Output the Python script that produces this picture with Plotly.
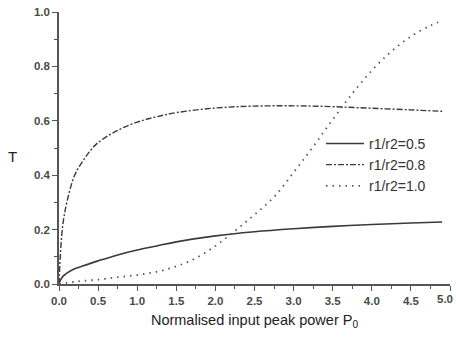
import plotly.graph_objects as go

# Data
p_solid = [0, 0.02, 0.05, 0.1, 0.2, 0.3, 0.5, 0.75, 1.0, 1.25, 1.5, 2.0, 2.5, 3.0, 3.5, 4.0, 4.5, 4.9]
t_solid = [0, 0.015, 0.028, 0.040, 0.056, 0.066, 0.085, 0.107, 0.125, 0.140, 0.155, 0.177, 0.192, 0.203, 0.212, 0.219, 0.224, 0.228]

p_dashdot = [0, 0.02, 0.05, 0.1, 0.2, 0.3, 0.4, 0.5, 0.75, 1.0, 1.25, 1.5, 2.0, 2.5, 3.0, 3.5, 4.0, 4.5, 4.9]
t_dashdot = [0, 0.12, 0.22, 0.30, 0.40, 0.45, 0.49, 0.52, 0.565, 0.595, 0.615, 0.63, 0.647, 0.654, 0.655, 0.652, 0.646, 0.640, 0.635]

p_dot = [0, 0.25, 0.5, 0.75, 1.0, 1.25, 1.5, 1.75, 2.0, 2.25, 2.5, 2.75, 3.0, 3.25, 3.5, 3.75, 4.0, 4.25, 4.5, 4.75, 4.9]
t_dot = [0, 0.010, 0.016, 0.025, 0.033, 0.045, 0.065, 0.095, 0.140, 0.195, 0.255, 0.320, 0.410, 0.505, 0.605, 0.700, 0.785, 0.855, 0.910, 0.950, 0.968]

names = ["r1/r2=0.5", "r1/r2=0.8", "r1/r2=1.0"]
x_ticks = [0.0, 0.5, 1.0, 1.5, 2.0, 2.5, 3.0, 3.5, 4.0, 4.5, 5.0]
y_ticks = [0.0, 0.2, 0.4, 0.6, 0.8, 1.0]
x_title = "Normalised input peak power P<sub>0</sub>"
y_title = "T"

FONT = "Liberation Sans, Arial"
TICKCOL = "#4a4a4a"

fig = go.Figure()
fig.add_trace(go.Scatter(x=p_solid, y=t_solid, mode="lines", name=names[0],
                         line=dict(color="#3a3a3a", width=1.6, shape="spline")))
fig.add_trace(go.Scatter(x=p_dashdot, y=t_dashdot, mode="lines", name=names[1],
                         line=dict(color="#3a3a3a", width=1.4, dash="6px,2px,2px,2px", shape="spline")))
fig.add_trace(go.Scatter(x=p_dot, y=t_dot, mode="lines", name=names[2],
                         line=dict(color="#555555", width=1.8, dash="1.5px,5px", shape="spline")))

axis_common = dict(
    showgrid=False, zeroline=False, showline=True, linecolor="#555555", linewidth=1.5,
    ticks="outside", ticklen=5, tickwidth=1.3, tickcolor="#555555",
    tickfont=dict(family=FONT, size=11.5, color=TICKCOL, weight=600),
    mirror=False,
)

# last x tick label is drawn as an annotation so it stays inside the page
x_ticktext = [f"{v:.1f}" for v in x_ticks[:-1]] + [""]

fig.update_layout(
    width=456, height=339,
    margin=dict(l=59, r=6, t=12, b=55),
    paper_bgcolor="white", plot_bgcolor="white",
    showlegend=True,
    legend=dict(x=0.67, y=0.574, xanchor="left", yanchor="top",
                bgcolor="rgba(0,0,0,0)", borderwidth=0,
                font=dict(family=FONT, size=14, color="#333333"),
                tracegroupgap=0, itemwidth=38),
    xaxis=dict(range=[0, 5], tickvals=x_ticks, ticktext=x_ticktext,
               title=dict(text=x_title, font=dict(family=FONT, size=14.5, color="#222222"),
                          standoff=9),
               **axis_common),
    yaxis=dict(range=[0, 1.0], tickvals=y_ticks, ticktext=[f"{v:.1f}" for v in y_ticks],
               **axis_common),
    annotations=[
        dict(text=f"{x_ticks[-1]:.1f}", x=x_ticks[-1], xref="x", y=0, yref="paper",
             yanchor="top", xanchor="right", xshift=5, yshift=-7, showarrow=False,
             font=dict(family=FONT, size=11.5, color=TICKCOL, weight=600)),
        dict(text=y_title, x=-0.118, xref="paper", y=0.467, yref="paper",
             xanchor="center", yanchor="middle", showarrow=False,
             font=dict(family=FONT, size=15, color="#222222")),
    ],
)
fig.update_xaxes(minor=dict(ticks="outside", ticklen=3, tickwidth=1.2, tickcolor="#555555", dtick=0.25, tick0=0))
fig.update_yaxes(minor=dict(ticks="outside", ticklen=3, tickwidth=1.2, tickcolor="#555555", dtick=0.1, tick0=0))

fig.write_html("out.html")
